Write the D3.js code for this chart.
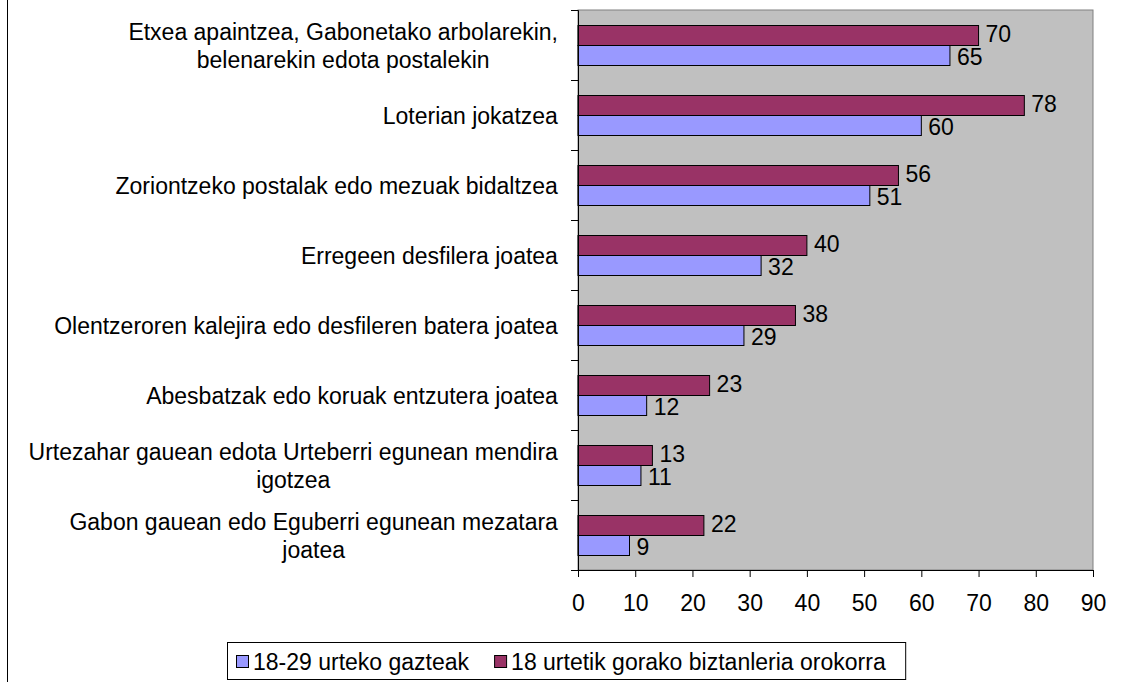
<!DOCTYPE html>
<html><head><meta charset="utf-8">
<script src="https://cdn.jsdelivr.net/npm/d3@7"></script>
<style>
html,body{margin:0;padding:0;background:#fff;}
svg{display:block;font-family:"Liberation Sans",Arial,sans-serif;}
</style></head>
<body>
<svg id="c" width="1121" height="682"></svg>
<script>
const categories = [
  ["Etxea apaintzea, Gabonetako arbolarekin,", "belenarekin edota postalekin"],
  ["Loterian jokatzea"],
  ["Zoriontzeko postalak edo mezuak bidaltzea"],
  ["Erregeen desfilera joatea"],
  ["Olentzeroren kalejira edo desfileren batera joatea"],
  ["Abesbatzak edo koruak entzutera joatea"],
  ["Urtezahar gauean edota Urteberri egunean mendira", "igotzea"],
  ["Gabon gauean edo Eguberri egunean mezatara", "joatea"]
];
const seriesNames = ["18-29 urteko gazteak", "18 urtetik gorako biztanleria orokorra"];
const youngValues = [65, 60, 51, 32, 29, 12, 11, 9];
const generalValues = [70, 78, 56, 40, 38, 23, 13, 22];
const xTicks = [0, 10, 20, 30, 40, 50, 60, 70, 80, 90];
const colors = ["#9999FF", "#993366"];

const svg = d3.select("#c");
const L = 578, R = 1093, T = 10, B = 570;
const fs = 23;

// outer frame
svg.append("rect").attr("x", 7.5).attr("y", -1).attr("width", 1130).attr("height", 700)
  .attr("fill", "none").attr("stroke", "#000").attr("stroke-width", 1);

const x = d3.scaleLinear().domain([0, 90]).range([L, R]);
const y = d3.scaleBand().domain(d3.range(categories.length)).range([T, B]).paddingInner(0).paddingOuter(0);
const inner = d3.scaleBand().domain([0, 1]).range([15, y.bandwidth() - 15]);

svg.append("rect").attr("x", L).attr("y", T).attr("width", R - L).attr("height", B - T)
  .attr("fill", "#C0C0C0").attr("stroke", "#808080").attr("stroke-width", 1);

const rows = categories.map((c, i) => ({i, c, g: generalValues[i], yv: youngValues[i]}));

const grp = svg.append("g");
rows.forEach(r => {
  const bars = [{v: r.g, k: 1, pos: 0, dy: -2}, {v: r.yv, k: 0, pos: 1, dy: 1}];
  bars.forEach(b => {
    const by = y(r.i) + inner(b.pos);
    grp.append("rect")
      .attr("x", x(0)).attr("y", Math.round(by) + 0.5)
      .attr("width", x(b.v) - x(0)).attr("height", inner.bandwidth())
      .attr("fill", colors[b.k]).attr("stroke", "#000").attr("stroke-width", 1);
    grp.append("text")
      .attr("x", x(b.v) + 7).attr("y", Math.round(by) + inner.bandwidth() / 2 + 1 + b.dy)
      .attr("dy", "0.35em").attr("font-size", fs).attr("fill", "#000").text(b.v);
  });
});

// x axis
const xAxis = d3.axisBottom(x).tickValues(xTicks).tickSize(7).tickPadding(18);
const gx = svg.append("g").attr("transform", `translate(0,${B})`).call(xAxis);
gx.select(".domain").attr("stroke", "#000");
gx.selectAll(".tick line").attr("stroke", "#000");
gx.selectAll("text").attr("font-size", fs).attr("font-family", "Liberation Sans, Arial, sans-serif").attr("fill", "#000");

// y axis line + ticks at band boundaries
const yl = d3.scaleLinear().domain([0, categories.length]).range([T, B]);
const gy = svg.append("g").attr("transform", `translate(${L},0)`)
  .call(d3.axisLeft(yl).tickValues(d3.range(categories.length + 1)).tickSize(7).tickFormat(""));
gy.select(".domain").attr("stroke", "#000");
gy.selectAll(".tick line").attr("stroke", "#000");

// category labels
const lab = svg.append("g").attr("font-size", fs).attr("fill", "#000");
const rightEdge = 558;
const lineH = 28;
rows.forEach(r => {
  const cy = y(r.i) + y.bandwidth() / 2 + 1;
  const t = lab.append("text").attr("text-anchor", "middle");
  const n = r.c.length;
  r.c.forEach((line, j) => {
    t.append("tspan").attr("x", 0).attr("y", cy + (j - (n - 1) / 2) * lineH).attr("dy", "0.35em").text(line);
  });
  const w = t.node().getBBox().width;
  t.attr("transform", `translate(${rightEdge - w / 2},0)`);
});

// legend
const lg = svg.append("g");
const box = lg.append("rect").attr("x", 227.5).attr("y", 642.5).attr("height", 37)
  .attr("fill", "#fff").attr("stroke", "#000");
let lx = 236;
seriesNames.forEach((s, k) => {
  lg.append("rect").attr("x", lx + 0.5).attr("y", 655.5).attr("width", 12).attr("height", 12)
    .attr("fill", colors[k]).attr("stroke", "#000");
  const t = lg.append("text").attr("x", lx + 17).attr("y", 661.5).attr("dy", "0.35em")
    .attr("font-size", fs).text(s);
  lx += 17 + t.node().getComputedTextLength() + 25;
});
box.attr("width", lx - 25 + 20 - 227.5);
</script>
</body></html>
